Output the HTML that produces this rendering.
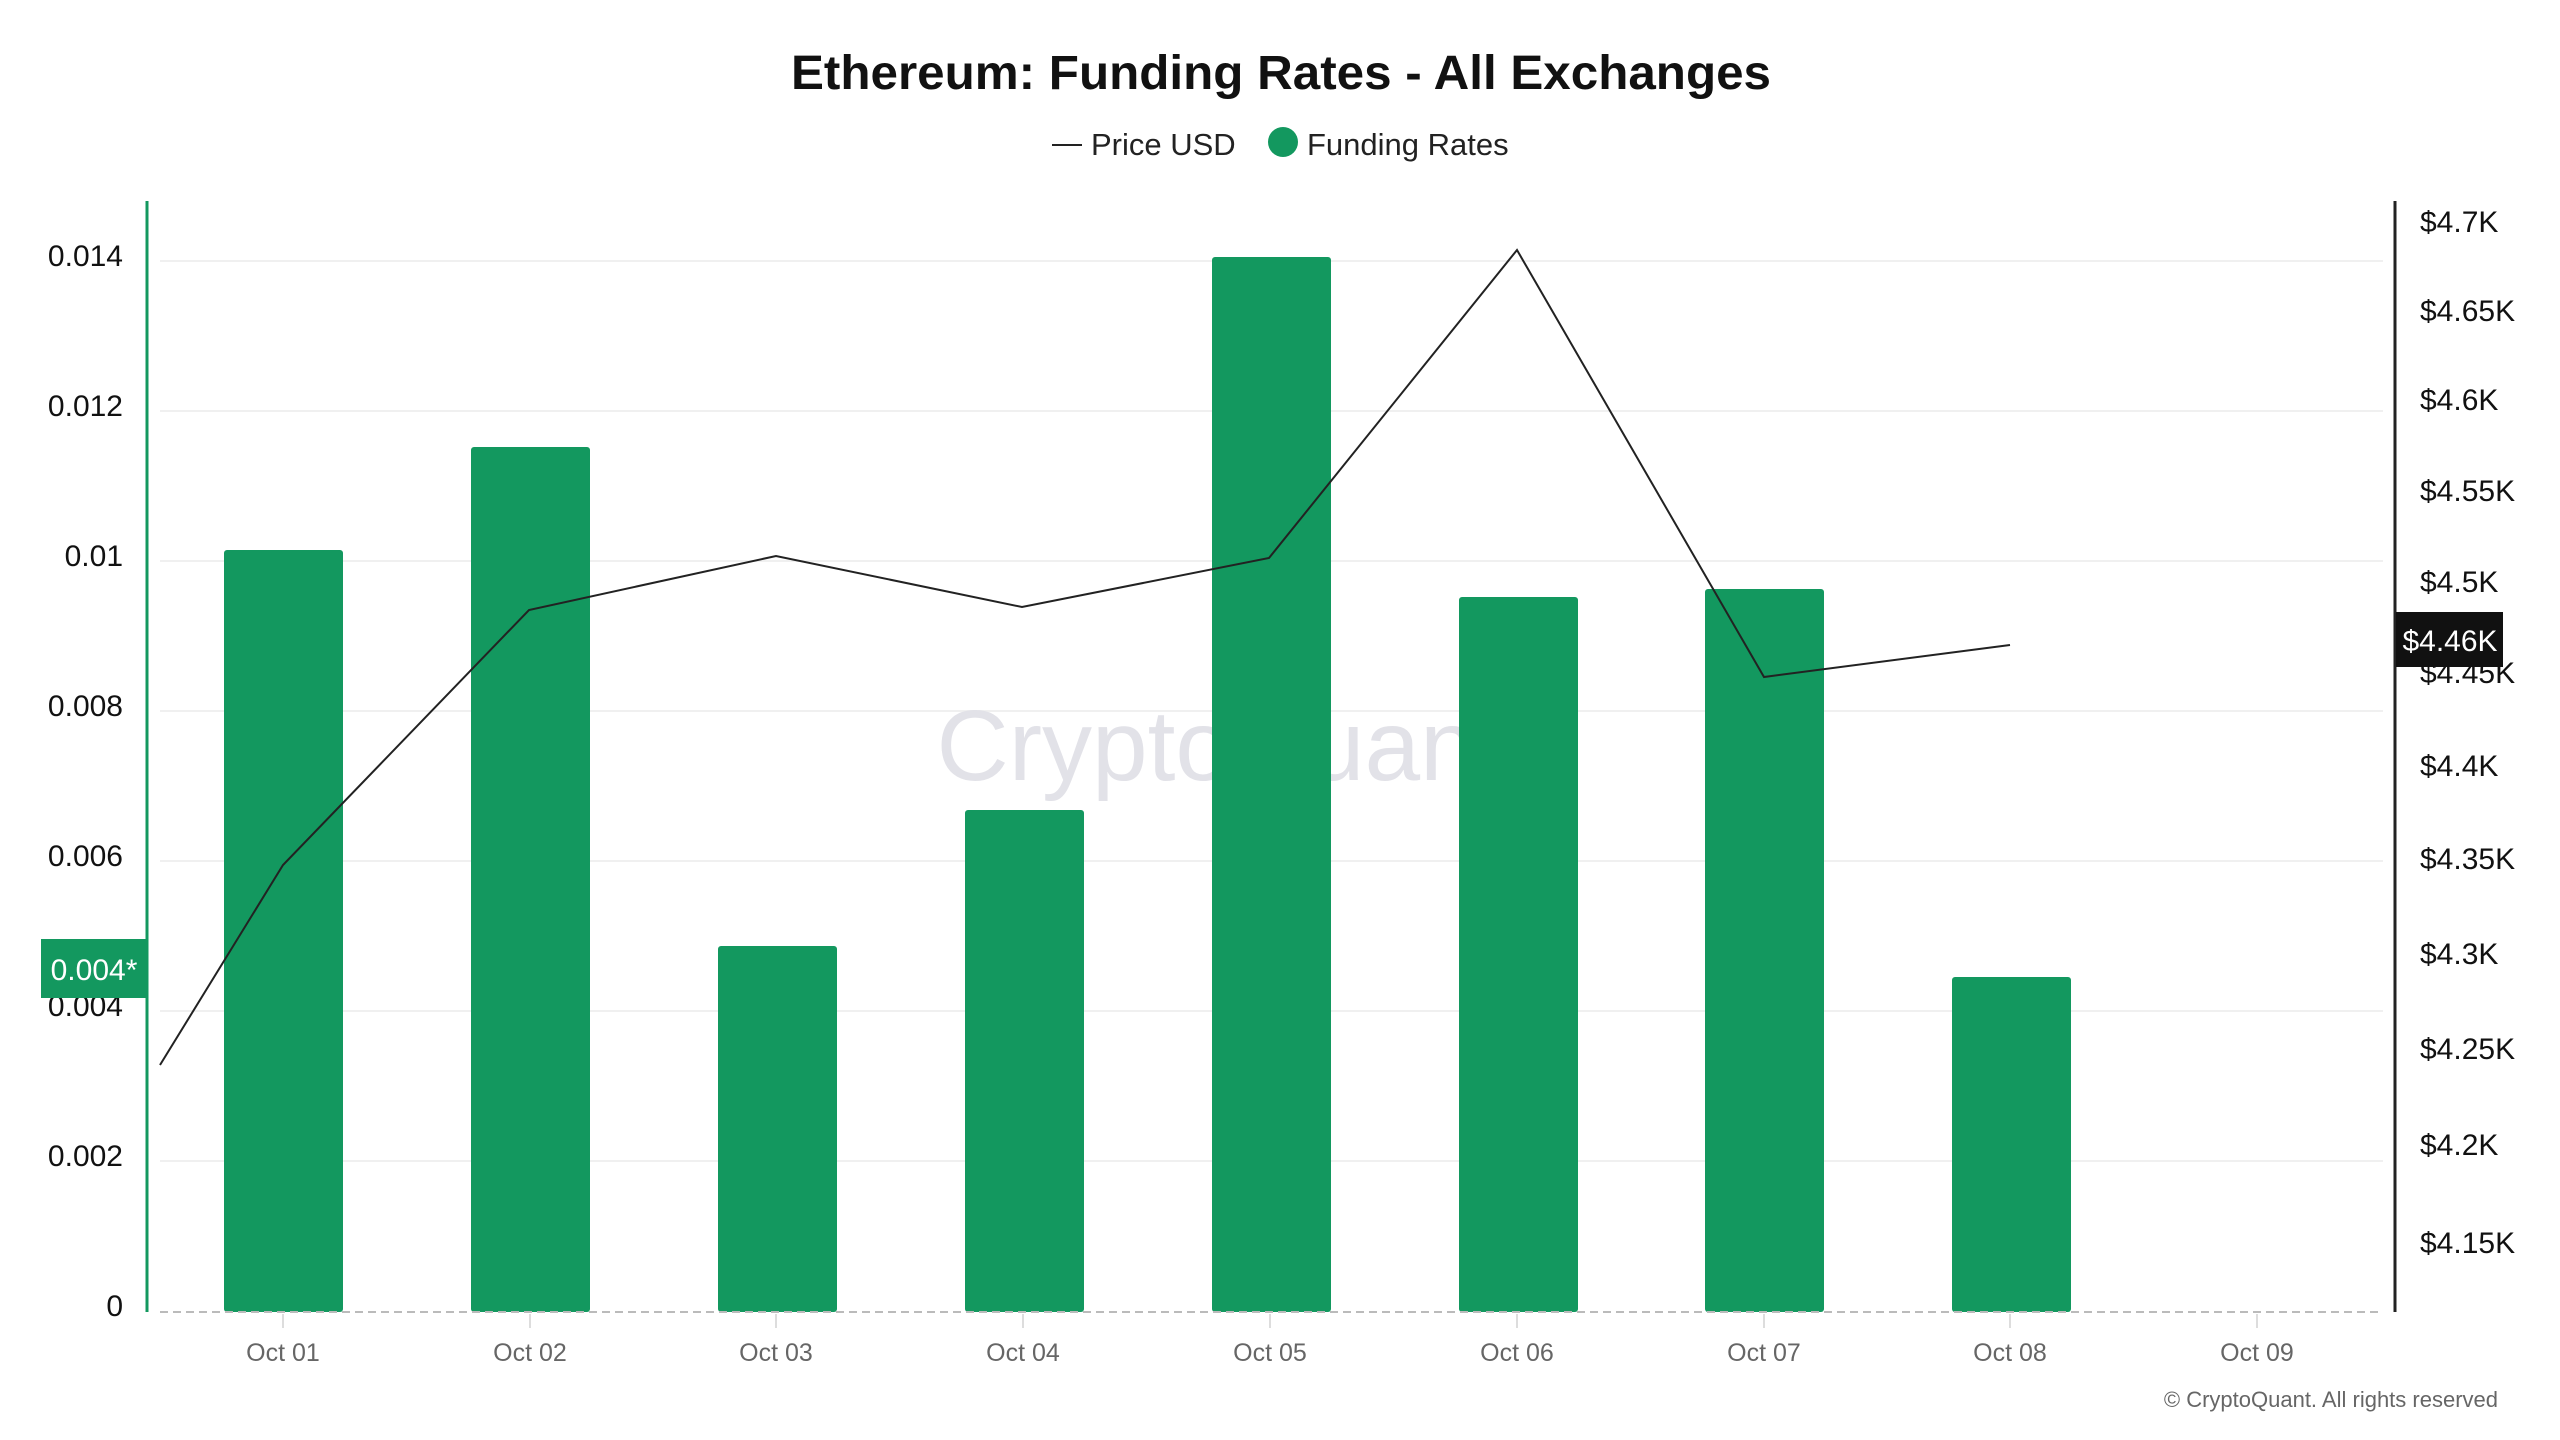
<!DOCTYPE html>
<html><head><meta charset="utf-8"><style>
html,body{margin:0;padding:0;background:#fff;}
svg{display:block;}
text{font-family:"Liberation Sans",sans-serif;}
</style></head><body>
<svg width="2560" height="1440" viewBox="0 0 2560 1440" xmlns="http://www.w3.org/2000/svg">
<rect width="2560" height="1440" fill="#fff"/>
<text x="1281" y="89" text-anchor="middle" font-size="48" font-weight="bold" fill="#111" textLength="980" lengthAdjust="spacingAndGlyphs">Ethereum: Funding Rates - All Exchanges</text>
<line x1="1052" y1="145" x2="1082" y2="145" stroke="#222" stroke-width="2"/>
<text x="1091" y="155" font-size="31" fill="#222">Price USD</text>
<circle cx="1283" cy="142" r="15" fill="#13985f"/>
<text x="1307" y="155" font-size="31" fill="#222">Funding Rates</text>
<g stroke="#f0f0f0" stroke-width="2">
<line x1="160" y1="1161" x2="2383" y2="1161"/>
<line x1="160" y1="1011" x2="2383" y2="1011"/>
<line x1="160" y1="861" x2="2383" y2="861"/>
<line x1="160" y1="711" x2="2383" y2="711"/>
<line x1="160" y1="561" x2="2383" y2="561"/>
<line x1="160" y1="411" x2="2383" y2="411"/>
<line x1="160" y1="261" x2="2383" y2="261"/>
</g>
<text x="1220" y="780" text-anchor="middle" font-size="100" fill="#e2e2e8">CryptoQuant</text>
<g fill="#13985f">
<rect x="224" y="550" width="119" height="762" rx="3"/>
<rect x="471" y="447" width="119" height="865" rx="3"/>
<rect x="718" y="946" width="119" height="366" rx="3"/>
<rect x="965" y="810" width="119" height="502" rx="3"/>
<rect x="1212" y="257" width="119" height="1055" rx="3"/>
<rect x="1459" y="597" width="119" height="715" rx="3"/>
<rect x="1705" y="589" width="119" height="723" rx="3"/>
<rect x="1952" y="977" width="119" height="335" rx="3"/>
</g>
<line x1="160" y1="1312" x2="2383" y2="1312" stroke="#bbb" stroke-width="2" stroke-dasharray="8,5"/>
<polyline points="160,1065 283,865 529,610 776,556 1022,607 1269,558 1517,250 1764,677 2010,645" fill="none" stroke="#222" stroke-width="2"/>
<line x1="147" y1="201" x2="147" y2="1312" stroke="#13985f" stroke-width="3"/>
<line x1="2395" y1="201" x2="2395" y2="1312" stroke="#222" stroke-width="3"/>
<g font-size="30" fill="#111" text-anchor="end">
<text x="123" y="1316">0</text>
<text x="123" y="1166">0.002</text>
<text x="123" y="1016">0.004</text>
<text x="123" y="866">0.006</text>
<text x="123" y="716">0.008</text>
<text x="123" y="566">0.01</text>
<text x="123" y="416">0.012</text>
<text x="123" y="266">0.014</text>
</g>
<rect x="41" y="939" width="106" height="59" fill="#13985f"/>
<text x="94" y="980" text-anchor="middle" font-size="30" fill="#fff">0.004*</text>
<g font-size="30" fill="#111">
<text x="2420" y="232">$4.7K</text>
<text x="2420" y="321">$4.65K</text>
<text x="2420" y="410">$4.6K</text>
<text x="2420" y="501">$4.55K</text>
<text x="2420" y="592">$4.5K</text>
<text x="2420" y="683">$4.45K</text>
<text x="2420" y="776">$4.4K</text>
<text x="2420" y="869">$4.35K</text>
<text x="2420" y="964">$4.3K</text>
<text x="2420" y="1059">$4.25K</text>
<text x="2420" y="1155">$4.2K</text>
<text x="2420" y="1253">$4.15K</text>
</g>
<rect x="2396" y="612" width="107" height="55" fill="#111"/>
<text x="2450" y="651" text-anchor="middle" font-size="30" fill="#fff">$4.46K</text>
<g font-size="25" fill="#666" text-anchor="middle">
<text x="283" y="1361">Oct 01</text>
<text x="530" y="1361">Oct 02</text>
<text x="776" y="1361">Oct 03</text>
<text x="1023" y="1361">Oct 04</text>
<text x="1270" y="1361">Oct 05</text>
<text x="1517" y="1361">Oct 06</text>
<text x="1764" y="1361">Oct 07</text>
<text x="2010" y="1361">Oct 08</text>
<text x="2257" y="1361">Oct 09</text>
</g>
<g stroke="#ddd" stroke-width="2">
<line x1="283" y1="1314" x2="283" y2="1328"/><line x1="530" y1="1314" x2="530" y2="1328"/>
<line x1="776" y1="1314" x2="776" y2="1328"/><line x1="1023" y1="1314" x2="1023" y2="1328"/>
<line x1="1270" y1="1314" x2="1270" y2="1328"/><line x1="1517" y1="1314" x2="1517" y2="1328"/>
<line x1="1764" y1="1314" x2="1764" y2="1328"/><line x1="2010" y1="1314" x2="2010" y2="1328"/>
<line x1="2257" y1="1314" x2="2257" y2="1328"/>
</g>
<text x="2498" y="1407" text-anchor="end" font-size="22" fill="#666">© CryptoQuant. All rights reserved</text>
</svg>
</body></html>
